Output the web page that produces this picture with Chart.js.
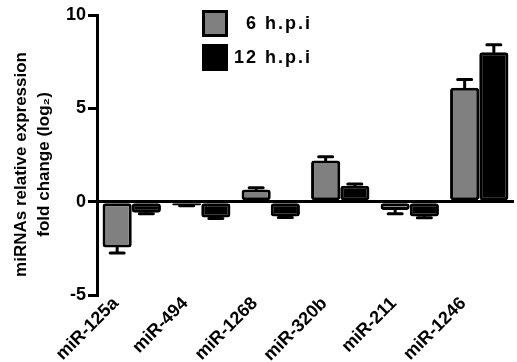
<!DOCTYPE html>
<html>
<head>
<meta charset="utf-8">
<script src="https://cdn.jsdelivr.net/npm/chart.js@4.4.1/dist/chart.umd.min.js"></script>
<style>
  html, body { margin: 0; padding: 0; background: #fff; }
  .wrap { width: 517px; height: 362px; }
</style>
</head>
<body>
<div class="wrap"><canvas id="expressionChart"></canvas></div>
<script>
const mirnaLabels = ["miR-125a", "miR-494", "miR-1268", "miR-320b", "miR-211", "miR-1246"];
const seriesNames = ["6 h.p.i", "12 h.p.i"];
const values6h = [-2.45, -0.2, 0.65, 2.2, -0.45, 6.1];
const errors6h = [0.3, 0.02, 0.1, 0.2, 0.2, 0.45];
const values12h = [-0.6, -0.85, -0.8, 0.85, -0.8, 8.0];
const errors12h = [0.05, 0.05, 0.05, 0.1, 0.06, 0.4];
const yTicks = [-5, 0, 5, 10];
// trailing spaces nudge the centred title a little toward the bottom
const yTitleLines = ["miRNAs relative expression    ", "fold change (log\u2082)    "];

const FONT = "'Liberation Sans', Arial, sans-serif";
const GREY = "#808080";

// one-sided error bars, drawn away from zero like the original figure
const errorBars = {
  id: "errorBars",
  afterDatasetsDraw(chart) {
    const { ctx } = chart;
    const y = chart.scales.y;
    ctx.save();
    ctx.strokeStyle = "#000";
    ctx.lineWidth = 3;
    ctx.lineCap = "round";
    chart.data.datasets.forEach((ds, i) => {
      chart.getDatasetMeta(i).data.forEach((bar, j) => {
        const v = ds.data[j];
        const end = v + Math.sign(v) * ds.errors[j];
        const y0 = y.getPixelForValue(v);
        const y1 = y.getPixelForValue(end);
        ctx.beginPath();
        ctx.moveTo(bar.x, y0);
        ctx.lineTo(bar.x, y1);
        ctx.moveTo(bar.x - 7, y1);
        ctx.lineTo(bar.x + 7, y1);
        ctx.stroke();
      });
    });
    ctx.restore();
  }
};

// legend: square swatches with labels right-aligned next to them
const boxLegend = {
  id: "boxLegend",
  afterDraw(chart) {
    const { ctx } = chart;
    const tops = [10, 44];
    ctx.save();
    chart.data.datasets.forEach((ds, i) => {
      const top = tops[i];
      ctx.fillStyle = "#000";
      ctx.fillRect(202, top, 26, 27);
      if (ds.backgroundColor !== "#000") {
        ctx.fillStyle = ds.backgroundColor;
        ctx.fillRect(205, top + 3, 20, 21);
      }
      ctx.fillStyle = "#000";
      ctx.font = "bold 18px " + FONT;
      ctx.letterSpacing = "2px";
      ctx.textAlign = "right";
      ctx.textBaseline = "middle";
      ctx.fillText(ds.label, 312, top + 14);
    });
    ctx.restore();
  }
};

new Chart(document.getElementById("expressionChart"), {
  type: "bar",
  data: {
    labels: mirnaLabels,
    datasets: [{
      label: seriesNames[0],
      data: values6h,
      errors: errors6h,
      backgroundColor: GREY,
      borderColor: "#000",
      borderWidth: 3,
      borderRadius: 3,
      borderSkipped: false
    }, {
      label: seriesNames[1],
      data: values12h,
      errors: errors12h,
      backgroundColor: "#000",
      borderColor: "#000",
      borderWidth: 3,
      borderRadius: 3,
      borderSkipped: false
    }]
  },
  options: {
    responsive: true,
    maintainAspectRatio: false,
    animation: false,
    layout: { padding: { top: 15, right: 3, left: 0, bottom: 0 } },
    datasets: { bar: { barPercentage: 1, categoryPercentage: 0.84 } },
    plugins: {
      legend: { display: false },
      tooltip: { enabled: false }
    },
    scales: {
      x: {
        grid: { display: false },
        border: { display: false },
        ticks: {
          color: "#000",
          font: { family: FONT, size: 18, weight: "bold" },
          minRotation: 45,
          maxRotation: 45,
          padding: -10,
          labelOffset: -16
        },
        afterFit: s => { s.height = 67; }
      },
      y: {
        min: -5,
        max: 10,
        afterBuildTicks: s => { s.ticks = yTicks.map(v => ({ value: v })); },
        afterFit: s => { s.width = 97; },
        border: { display: true, color: "#000", width: 3 },
        grid: {
          color: ctx => ctx.tick && ctx.tick.value === 0 ? "#000" : "rgba(0,0,0,0)",
          lineWidth: 3,
          tickColor: "#000",
          tickWidth: 3,
          tickLength: 9
        },
        ticks: {
          color: "#000",
          font: { family: FONT, size: 18, weight: "bold" },
          padding: 2
        },
        title: {
          display: true,
          text: yTitleLines,
          color: "#000",
          font: { family: FONT, size: 17, weight: "bold", lineHeight: 1.35 },
          padding: { top: 10, bottom: 0 }
        }
      }
    }
  },
  plugins: [errorBars, boxLegend]
});
</script>
</body>
</html>
